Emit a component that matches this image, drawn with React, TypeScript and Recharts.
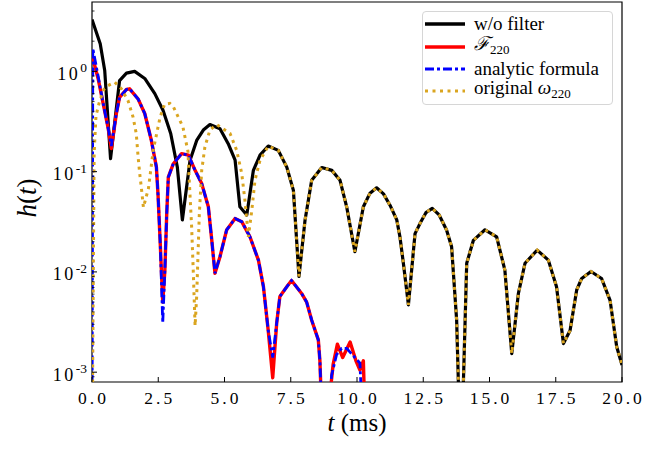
import React from 'react';
import { LineChart, Line, XAxis, YAxis, ReferenceArea, Label } from 'recharts';

// ticks
const xTicks = [0, 2.5, 5, 7.5, 10, 12.5, 15, 17.5, 20];
const yMajor = [0.001, 0.01, 0.1, 1];
const yMinor = [
  0.0009,
  0.002, 0.003, 0.004, 0.005, 0.006, 0.007, 0.008, 0.009,
  0.02, 0.03, 0.04, 0.05, 0.06, 0.07, 0.08, 0.09,
  0.2, 0.3, 0.4, 0.5, 0.6, 0.7, 0.8, 0.9,
  2, 3, 4,
];

// w/o filter, before it merges with the original omega_220 curve
const blackEarlyT = [0, 0.31, 0.48, 0.7, 1.04, 1.3, 1.61, 1.99, 2.37, 2.68, 2.97, 3.22, 3.41, 3.7, 3.95, 4.2, 4.45, 4.83, 5.14, 5.4, 5.58, 5.84, 6.09, 6.34];
const blackEarlyH = [3.3, 1.89, 1.02, 0.135, 0.81, 0.96, 1.0, 0.85, 0.6, 0.41, 0.24, 0.111, 0.033, 0.13, 0.205, 0.26, 0.295, 0.268, 0.19, 0.13, 0.0446, 0.037, 0.103, 0.146];

// original omega_220, early part
const origEarlyT = [0, 0.08, 0.15, 0.29, 0.45, 0.6, 0.86, 1.11, 1.36, 1.55, 1.67, 1.74, 1.8, 1.86, 1.94, 2.13, 2.31, 2.57, 2.74, 2.94, 3.06, 3.43, 3.51, 3.62, 3.67, 3.76, 3.82, 3.89, 3.95, 4.01, 4.05, 4.14, 4.26, 4.45, 4.7, 5.21, 5.46, 5.65, 5.77, 5.9, 6.03, 6.15, 6.34];
const origEarlyH = [0.0001, 0.15, 0.36, 0.51, 0.66, 0.72, 0.78, 0.67, 0.51, 0.35, 0.24, 0.14, 0.096, 0.07, 0.044, 0.068, 0.163, 0.35, 0.47, 0.48, 0.45, 0.28, 0.22, 0.16, 0.082, 0.028, 0.0104, 0.0029, 0.0057, 0.0178, 0.038, 0.103, 0.176, 0.26, 0.295, 0.24, 0.163, 0.096, 0.052, 0.0224, 0.041, 0.082, 0.13];

// late ringdown, shared by w/o filter and original omega_220
const lateT = [6.65, 7.03, 7.35, 7.6, 7.81, 8.04, 8.29, 8.67, 9.05, 9.36, 9.61, 9.92, 10.24, 10.49, 10.74, 11.0, 11.25, 11.5, 11.62, 11.75, 11.94, 12.19, 12.38, 12.6, 12.84, 13.1, 13.38, 13.57, 13.76, 13.92, 14.14, 14.39, 14.83, 15.27, 15.58, 15.84, 16.09, 16.34, 16.8, 17.22, 17.53, 17.79, 18.04, 18.29, 18.48, 18.83, 19.23, 19.55, 19.8, 20];
const lateH = [0.18, 0.163, 0.111, 0.065, 0.009, 0.033, 0.082, 0.11, 0.103, 0.082, 0.0446, 0.0159, 0.0446, 0.061, 0.069, 0.06, 0.046, 0.033, 0.0224, 0.0122, 0.0047, 0.0241, 0.0305, 0.039, 0.043, 0.037, 0.0262, 0.0178, 0.0033, 0.0001, 0.0122, 0.0206, 0.0263, 0.0224, 0.0104, 0.00153, 0.0061, 0.0122, 0.0165, 0.0131, 0.0071, 0.00193, 0.0026, 0.0066, 0.0086, 0.0101, 0.0086, 0.0052, 0.00179, 0.00118];

// F_220 filtered
const filtT = [0, 0.23, 0.42, 0.6, 0.73, 0.92, 1.04, 1.3, 1.42, 1.74, 1.99, 2.24, 2.43, 2.49, 2.57, 2.67, 2.75, 2.82, 2.88, 3.07, 3.38, 3.64, 3.89, 4.14, 4.39, 4.52, 4.64, 4.83, 5.08, 5.4, 5.65, 5.96, 6.28, 6.47, 6.65, 6.82, 6.97, 7.09, 7.35, 7.53, 7.91, 8.1, 8.29, 8.54, 8.6, 8.75, 8.98, 9.1, 9.26, 9.46, 9.74, 9.96, 10.11, 10.24, 10.36];
const filtH = [1.45, 0.85, 0.48, 0.28, 0.17, 0.38, 0.55, 0.66, 0.67, 0.53, 0.38, 0.205, 0.111, 0.06, 0.0207, 0.005, 0.0104, 0.038, 0.088, 0.12, 0.151, 0.146, 0.103, 0.076, 0.0446, 0.0207, 0.0097, 0.0142, 0.0262, 0.0341, 0.0317, 0.0224, 0.0131, 0.0071, 0.0026, 0.00088, 0.0031, 0.0057, 0.0071, 0.0082, 0.0061, 0.005, 0.0033, 0.0021, 0.0013, 0.0001, 0.0006, 0.0012, 0.0019, 0.0014, 0.002, 0.0013, 0.00105, 0.0013, 0.0001];

// analytic formula
const anaT = [0, 0.03, 0.23, 0.42, 0.6, 0.73, 0.92, 1.04, 1.3, 1.42, 1.74, 1.99, 2.24, 2.43, 2.49, 2.57, 2.67, 2.75, 2.82, 2.88, 3.07, 3.38, 3.64, 3.89, 4.14, 4.39, 4.52, 4.64, 4.83, 5.08, 5.4, 5.65, 5.96, 6.28, 6.47, 6.65, 6.82, 6.97, 7.09, 7.35, 7.53, 7.91, 8.1, 8.29, 8.54, 8.6, 8.75, 8.98, 9.04, 9.23, 9.42, 9.61, 9.92, 10.11, 10.3];
const anaH = [0.0001, 1.7, 0.9, 0.48, 0.28, 0.18, 0.38, 0.55, 0.66, 0.67, 0.53, 0.38, 0.205, 0.111, 0.06, 0.0207, 0.0031, 0.0104, 0.038, 0.088, 0.12, 0.151, 0.146, 0.103, 0.076, 0.0446, 0.0207, 0.0097, 0.0142, 0.0262, 0.0341, 0.0317, 0.0224, 0.0131, 0.0071, 0.0026, 0.0014, 0.0031, 0.0057, 0.0071, 0.0082, 0.0061, 0.005, 0.0033, 0.0021, 0.0013, 0.0001, 0.0005, 0.00093, 0.0015, 0.00173, 0.00173, 0.0014, 0.00123, 0.0001];

const toPoints = (ts: number[], hs: number[]) => ts.map((t, i) => ({ t, h: hs[i] }));

const blackData = toPoints([...blackEarlyT, ...lateT], [...blackEarlyH, ...lateH]);
const origData = toPoints([...origEarlyT, ...lateT], [...origEarlyH, ...lateH]);
const filtData = toPoints(filtT, filtH);
const anaData = toPoints(anaT, anaH);

const FONT = '"Liberation Serif", "Times New Roman", serif';
const Y_DOMAIN = [0.000798, 4.92];

const YTick = (props: any) => {
  const { x, y, payload } = props;
  const v = payload.value;
  const major = yMajor.includes(v);
  return (
    <g>
      <line x1={x} x2={x + (major ? 5 : 2.5)} y1={y} y2={y} stroke="#000" strokeWidth={major ? 1 : 0.8} />
      {major && (
        <text x={x - 5} y={y + 8.5} textAnchor="end" fontFamily={FONT} fontSize={18} fill="#000">
          <tspan letterSpacing={2.5}>10</tspan>
          <tspan dy={-7.5} fontSize={13.5}>{Math.round(Math.log10(v))}</tspan>
        </text>
      )}
    </g>
  );
};

const XTick = (props: any) => {
  const { x, y, payload } = props;
  return (
    <g>
      <line x1={x} x2={x} y1={y} y2={y - 5} stroke="#000" strokeWidth={1} />
      <text x={x + 1.5} y={y + 22} textAnchor="middle" fontFamily={FONT} fontSize={17.5} letterSpacing={3} fill="#000">
        {payload.value.toFixed(1)}
      </text>
    </g>
  );
};

const sub = { fontSize: 13, verticalAlign: -4 };

const legendItems = [
  { key: 'black', color: '#000000', dash: undefined, width: 3.3, label: <span>w/o filter</span> },
  { key: 'filt', color: '#ff0000', dash: undefined, width: 3.3, label: <span><i>ℱ</i><sub style={sub}>220</sub></span> },
  { key: 'ana', color: '#0000ff', dash: '9 3 3 3', width: 2.8, label: <span>analytic formula</span> },
  { key: 'orig', color: 'goldenrod', dash: '3 4.5', width: 3, label: <span>original <i>ω</i><sub style={sub}>220</sub></span> },
];

const App = () => {
  return (
    <div style={{ position: 'absolute', left: 0, top: 0, width: 672, height: 449, background: '#fff' }}>
      <LineChart width={672} height={449} margin={{ top: 2, right: 50, bottom: 0, left: 0 }}>
        <XAxis
          dataKey="t"
          type="number"
          domain={[0, 20]}
          ticks={xTicks}
          interval={0}
          allowDataOverflow
          height={67}
          tickSize={0}
          tickMargin={0}
          axisLine={false}
          tick={<XTick />}
        >
          <Label
            content={(p: any) => {
              const vb = p.viewBox;
              return (
                <text x={vb.x + vb.width / 2} y={vb.y + 49} textAnchor="middle" fontFamily={FONT} fontSize={25} fill="#000">
                  <tspan fontStyle="italic">t</tspan>
                  <tspan> (ms)</tspan>
                </text>
              );
            }}
          />
        </XAxis>
        <YAxis
          type="number"
          scale="log"
          domain={Y_DOMAIN}
          ticks={[...yMajor, ...yMinor]}
          interval={0}
          allowDataOverflow
          width={92}
          tickSize={0}
          tickMargin={0}
          axisLine={false}
          tick={<YTick />}
        >
          <Label
            content={(p: any) => {
              const vb = p.viewBox;
              const cx = 27;
              const cy = vb.y + vb.height / 2 + 6;
              return (
                <text x={cx} y={cy} transform={`rotate(-90 ${cx} ${cy})`} textAnchor="middle" dominantBaseline="central" fontFamily={FONT} fontSize={27} fill="#000">
                  <tspan fontStyle="italic">h</tspan>
                  <tspan>(</tspan>
                  <tspan fontStyle="italic">t</tspan>
                  <tspan>)</tspan>
                </text>
              );
            }}
          />
        </YAxis>
        <Line data={blackData} dataKey="h" type="linear" stroke="#000000" strokeWidth={3.2} dot={false} isAnimationActive={false} strokeLinejoin="round" />
        <Line data={filtData} dataKey="h" type="linear" stroke="#ff0000" strokeWidth={3.4} dot={false} isAnimationActive={false} strokeLinejoin="round" />
        <Line data={anaData} dataKey="h" type="linear" stroke="#0000ff" strokeWidth={2.8} strokeDasharray="9 3 3 3" dot={false} isAnimationActive={false} />
        <Line data={origData} dataKey="h" type="linear" stroke="goldenrod" strokeWidth={3} strokeDasharray="3 4.5" dot={false} isAnimationActive={false} />
        <ReferenceArea x1={0} x2={20} y1={Y_DOMAIN[0]} y2={Y_DOMAIN[1]} fill="none" stroke="#000" strokeWidth={1.2} />
      </LineChart>

      <div
        style={{
          position: 'absolute',
          left: 422,
          top: 11,
          width: 191,
          height: 94,
          boxSizing: 'border-box',
          border: '1px solid #d6d6d6',
          borderRadius: 4,
          background: 'rgba(255,255,255,0.85)',
          fontFamily: FONT,
          fontSize: 19,
          color: '#000',
          paddingTop: 1,
        }}
      >
        {legendItems.map((item) => (
          <div key={item.key} style={{ display: 'flex', alignItems: 'center', height: 22.4, lineHeight: '22px', whiteSpace: 'nowrap' }}>
            <svg width={40} height={10} style={{ marginLeft: 2, marginRight: 9, flexShrink: 0 }}>
              <line x1={0} x2={40} y1={5} y2={5} stroke={item.color} strokeWidth={item.width} strokeDasharray={item.dash} />
            </svg>
            {item.label}
          </div>
        ))}
      </div>
    </div>
  );
};

export default App;
